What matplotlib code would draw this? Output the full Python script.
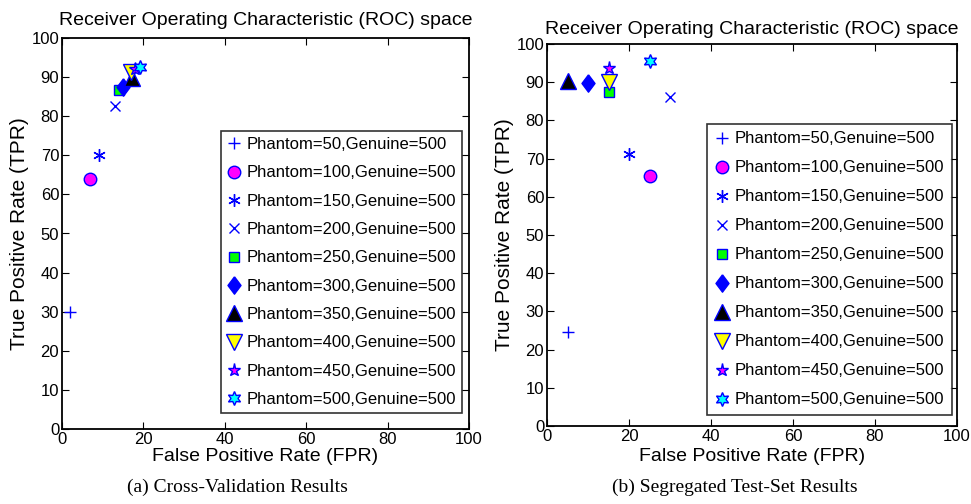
import matplotlib
matplotlib.use("Agg")
import matplotlib.pyplot as plt

plt.rcParams['font.family'] = ['Liberation Sans', 'DejaVu Sans']

labels = ["Phantom=50,Genuine=500", "Phantom=100,Genuine=500", "Phantom=150,Genuine=500",
          "Phantom=200,Genuine=500", "Phantom=250,Genuine=500", "Phantom=300,Genuine=500",
          "Phantom=350,Genuine=500", "Phantom=400,Genuine=500", "Phantom=450,Genuine=500",
          "Phantom=500,Genuine=500"]

cv_fpr = [2, 7, 9, 13, 14, 15, 17.3, 17, 18, 19.2]
cv_tpr = [30, 64, 70, 82.6, 86.6, 87.3, 89.8, 91.3, 91.9, 92.6]

ts_fpr = [5, 25, 20, 30, 15, 10, 5, 15, 15, 25]
ts_tpr = [24.5, 65.4, 71.2, 86.2, 87.4, 89.7, 90.3, 90.0, 93.6, 95.5]

diamond = [(0, 1), (0.75, 0), (0, -1), (-0.75, 0), (0, 1)]
markers = ['+', 'o', (6, 2, 0), 'x', 's', diamond, '^', 'v', '*', (6, 1, 0)]
faces = ['blue', 'magenta', 'blue', 'blue', '#00ff00', 'blue', 'black', 'yellow', 'magenta', 'cyan']
sizes = [9, 9, 9, 7, 7.5, 12.5, 11, 11, 9.5, 10]

ticks = [0, 10, 20, 30, 40, 50, 60, 70, 80, 90, 100]
xticks = [0, 20, 40, 60, 80, 100]

fig = plt.figure(figsize=(9.71, 5.04), dpi=100)
ax1 = fig.add_axes([62/971, 1-429.3/504, (469-62)/971, (429.3-37.7)/504])
ax2 = fig.add_axes([547/971, 1-426/504, (957-547)/971, (426-44)/504])

def draw(ax, xs, ys, leg_anchor, title_pad, xpad, lspace, bpad):
    for i in range(len(labels)):
        ax.plot([xs[i]], [ys[i]], linestyle='none', marker=markers[i],
                markersize=sizes[i], markerfacecolor=faces[i], markeredgecolor='blue',
                markeredgewidth=1.0, color='blue', label=labels[i])
    ax.set_xlim(0, 100)
    ax.set_ylim(0, 100)
    ax.set_xticks(xticks)
    ax.set_yticks(ticks)
    ax.tick_params(direction='in', top=True, right=True, labelsize=12, length=5, width=0.8, pad=2)
    for s in ax.spines.values():
        s.set_linewidth(1.3)
    ax.set_xlabel("False Positive Rate (FPR)", fontsize=14, labelpad=xpad)
    ax.set_ylabel("True Positive Rate (TPR)", fontsize=15, labelpad=2)
    ax.set_title("Receiver Operating Characteristic (ROC) space", fontsize=14, pad=title_pad)
    leg = ax.legend(loc='lower right', bbox_to_anchor=leg_anchor, fontsize=12,
                    frameon=True, fancybox=False, edgecolor='black', handletextpad=0.3,
                    labelspacing=lspace, borderpad=bpad, handlelength=0.9, borderaxespad=0,
                    markerscale=1.0)
    leg.get_frame().set_linewidth(1.2)

draw(ax1, cv_fpr, cv_tpr, (0.983, 0.042), 9, 1, 0.8, 0.35)
draw(ax2, ts_fpr, ts_tpr, (0.988, 0.029), 7, 3, 0.84, 0.45)

fig.text(237 / 971, 1 - 487/504, "(a) Cross-Validation Results",
         ha='center', va='center', fontsize=14, family='Liberation Serif')
fig.text(735 / 971, 1 - 487/504, "(b) Segregated Test-Set Results",
         ha='center', va='center', fontsize=14, family='Liberation Serif')

fig.savefig("out.png", dpi=100)
